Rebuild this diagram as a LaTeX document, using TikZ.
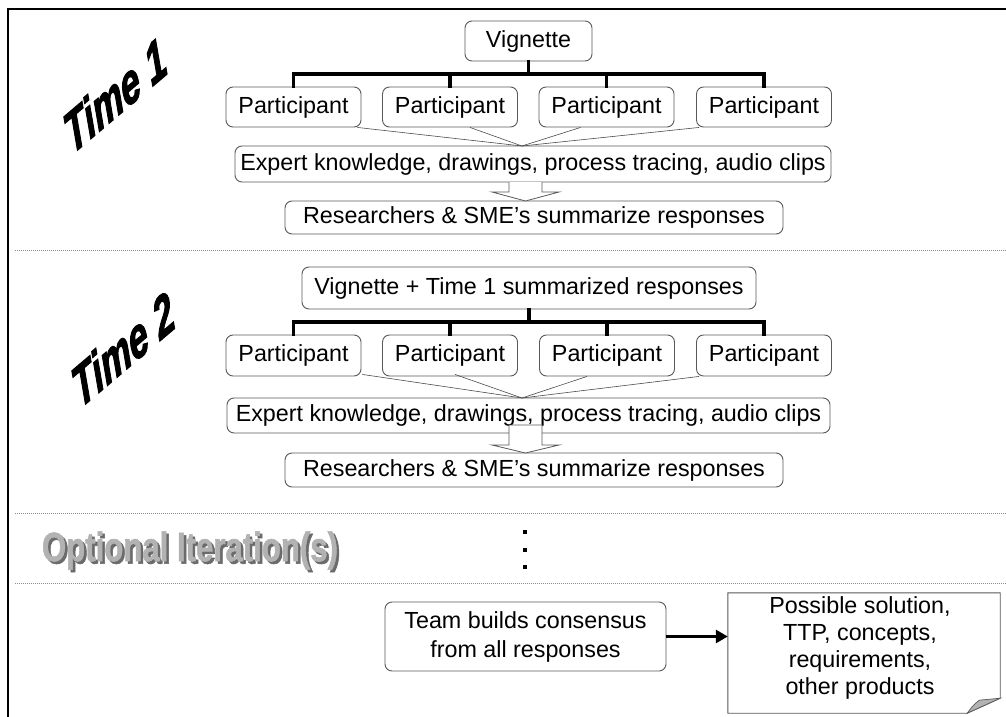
\documentclass[tikz,border=0pt]{standalone}
\usepackage{fontspec}
\setmainfont{Liberation Sans}
\newfontfamily\timefont[FakeBold=2.5]{Liberation Sans Bold Italic}
\newfontfamily\optfont[FakeBold=1.5]{Liberation Sans Bold}
\usetikzlibrary{calc,arrows.meta}
\begin{document}
\begin{tikzpicture}[x=1pt,y=-1pt,
  box/.style={draw=black!65,line width=0.9pt,rounded corners=7pt,fill=white,inner sep=0pt,
    align=center,font=\fontsize{23.3}{28}\selectfont},
  pbox/.style={box,minimum width=135pt,minimum height=40pt},
  tree/.style={line width=3.3pt,line cap=rect},
  thinline/.style={draw=black!70,line width=0.6pt},
  sepline/.style={draw=black!45,line width=0.7pt,dash pattern=on 1pt off 1pt},
  hollow/.style={draw=black!65,line width=0.8pt,fill=white},
  timelabel/.style={font=\fontsize{58}{58}\timefont,inner sep=0pt,xscale=0.6,rotate=27},
  optlabel/.style={font=\fontsize{41}{41}\optfont,inner sep=0pt,xscale=0.76},
  dotsq/.style={fill=black,inner sep=0pt,minimum size=4.5pt},
]
\useasboundingbox (0,0) rectangle (1006,717);
\fill[white] (0,0) rectangle (1006,717);
% frame
\draw[line width=1.8pt] (8,717) -- (8,9) -- (1006,9);

% separators
\draw[sepline] (15,250) -- (1006,250);
\draw[sepline] (15,513) -- (1006,513);
\draw[sepline] (15,583) -- (1006,583);

% ---------- Time 1 ----------
\node[timelabel] (t1) at (115,95) {Time 1};
\node[box,minimum width=127pt,minimum height=40pt] (v1) at (528.5,41) {Vignette};
\node[pbox] (p11) at (293.5,107) {Participant};
\node[pbox] (p12) at (450,107) {Participant};
\node[pbox] (p13) at (606.5,107) {Participant};
\node[pbox] (p14) at (764,107) {Participant};
\coordinate (bar1) at (0,74);
\draw[tree] (v1.south) -- (v1.south |- bar1);
\draw[tree,line join=miter] (p11.north) -- (p11.north |- bar1) -- (p14.north |- bar1) -- (p14.north);
\draw[tree] (p12.north) -- (p12.north |- bar1);
\draw[tree] (p13.north) -- (p13.north |- bar1);
\node[box,minimum width=596pt,minimum height=36pt] (e1) at (533,164) {Expert knowledge, drawings, process tracing, audio clips};
\coordinate (m1) at (522,146);
\draw[thinline] ($(p11.south east)+(-4,0)$) -- (m1);
\draw[thinline] ($(p12.south)+(20,0)$) -- (m1);
\draw[thinline] ($(p13.south)+(-26,0)$) -- (m1);
\draw[thinline] ($(p14.south west)+(3,0)$) -- (m1);
\node[box,minimum width=498pt,minimum height=33pt] (r1) at (534,217.5) {Researchers \& SME’s summarize responses};
\coordinate (a1) at (525.5,182);
\filldraw[hollow] ($(a1)+(-16.5,0)$) -- ++(0,10) -- ++(-17,0) -- ($(a1)+(0,19)$) -- ($(a1)+(33.5,10)$) -- ++(-17,0) -- ($(a1)+(16.5,0)$);

% ---------- Time 2 ----------
\node[timelabel] (t2) at (123,349) {Time 2};
\node[box,minimum width=454pt,minimum height=42pt] (v2) at (529,288) {Vignette + Time 1 summarized responses};
\node[pbox,minimum height=41pt] (p21) at (293.5,355.5) {Participant};
\node[pbox,minimum height=41pt] (p22) at (450,355.5) {Participant};
\node[pbox,minimum height=41pt] (p23) at (607,355.5) {Participant};
\node[pbox,minimum height=41pt] (p24) at (764,355.5) {Participant};
\coordinate (bar2) at (0,322);
\draw[tree] (v2.south) -- (v2.south |- bar2);
\draw[tree,line join=miter] (p21.north) -- (p21.north |- bar2) -- (p24.north |- bar2) -- (p24.north);
\draw[tree] (p22.north) -- (p22.north |- bar2);
\draw[tree] (p23.north) -- (p23.north |- bar2);
\node[box,minimum width=603pt,minimum height=35pt] (e2) at (528.5,415.5) {Expert knowledge, drawings, process tracing, audio clips};
\coordinate (m2) at (522,398);
\draw[thinline] ($(p21.south east)+(1,-2)$) -- (m2);
\draw[thinline] ($(p22.south)+(5,-2)$) -- (m2);
\draw[thinline] ($(p23.south)+(-20,0)$) -- (m2);
\draw[thinline] ($(p24.south west)+(3,0)$) -- (m2);
\node[box,minimum width=498pt,minimum height=34pt] (r2) at (534,470) {Researchers \& SME’s summarize responses};
\coordinate (a2) at (525.5,425);
\filldraw[hollow] ($(a2)+(-16.5,0)$) -- ++(0,20) -- ++(-17,0) -- ($(a2)+(0,28)$) -- ($(a2)+(33.5,20)$) -- ++(-17,0) -- ($(a2)+(16.5,0)$) -- cycle;

% ---------- Optional iterations ----------
\node[optlabel,text=black!58] (optsh) at (192.5,553) {Optional Iteration(s)};
\node[optlabel,text=black!30] (opt) at (190,550.5) {Optional Iteration(s)};
\node[dotsq] (d1) at (525,532) {};
\node[dotsq] (d2) at (525,550) {};
\node[dotsq] (d3) at (525,567) {};

% ---------- Consensus ----------
\node[box,minimum width=281pt,minimum height=69pt,font=\fontsize{23.3}{29}\selectfont] (team) at (525.5,636.5) {Team builds consensus\\from all responses};
\node[inner sep=0pt,minimum width=272pt,minimum height=120pt] (doc) at (864,653) {};
\draw[draw=black!65,line width=0.9pt,fill=white] (doc.north west) -- (doc.north east) -- ($(doc.south east)+(0,-15)$) -- ($(doc.south east)+(-33,0)$) -- (doc.south west) -- cycle;
\filldraw[draw=black!65,fill=black!30,line width=0.7pt] ($(doc.south east)+(-33,0)$) .. controls ($(doc.south east)+(-27,-8)$) .. ($(doc.south east)+(-21,-13)$) -- ($(doc.south east)+(0,-15)$) -- cycle;
\node[align=center,inner sep=0pt,font=\fontsize{23.3}{27}\selectfont] (doctext) at ($(doc.center)+(-4,-5)$) {Possible solution,\\TTP, concepts,\\requirements,\\other products};
\draw[line width=2.8pt,-{Triangle[length=12pt,width=13pt]}] (team.east) -- (team.east -| doc.west);
\end{tikzpicture}
\end{document}
